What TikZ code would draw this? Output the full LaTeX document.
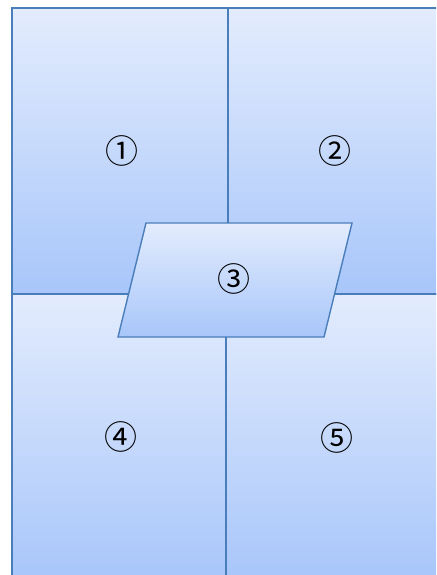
\documentclass[tikz,border=0pt]{standalone}
\usepackage{fontspec}
\usepackage{tikz}
\newfontfamily\digitfont{Noto Sans CJK JP}
\definecolor{panelline}{HTML}{4A7EBB}
\definecolor{paneltop}{HTML}{E3ECFD}
\definecolor{panelbot}{HTML}{A8C6FA}
\tikzset{panel/.style={draw=panelline,line width=1.4pt,top color=paneltop,bottom color=panelbot},
 num/.style={font=\digitfont\fontsize{33}{33}\selectfont,inner sep=0pt}}

\begin{document}
\begin{tikzpicture}[x=1pt,y=-1pt]
 \clip (0,0) rectangle (436,575);
 \fill[white] (0,0) rectangle (436,575);
 % four panels
 \draw[panel] (12,8) rectangle (228,294);
 \draw[panel] (228,8) rectangle (442,294);
 \draw[panel] (12,294) rectangle (226,580);
 \draw[panel] (226,294) rectangle (442,580);
 % middle one
 \draw[panel] (146,223)--(352,223)--(324,337)--(118,337)--cycle;
 \node[num] (p1) at (122,151) {①};
 \node[num] (p2) at (335,151) {②};
 \node[num] (p3) at (234,279) {③};
 \node[num] (p4) at (121,437) {④};
 \node[num] (p5) at (337,438) {⑤};
\end{tikzpicture}
\end{document}
